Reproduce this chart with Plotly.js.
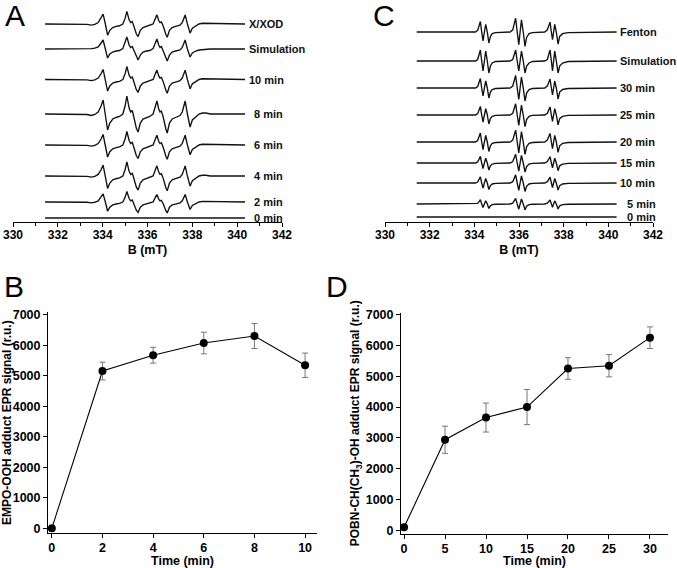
<!DOCTYPE html>
<html><head><meta charset="utf-8">
<script src="https://cdn.plot.ly/plotly-3.0.1.min.js"></script>
<style>html,body{margin:0;padding:0;background:#fff}#chart{width:677px;height:568px}</style>
</head><body><div id="chart"></div>
<script>
// ---------------- DATA ----------------
// Panel A: EMPO-OOH spectra (field in mT, signal in relative units)
const B_EMPO = [331.43, 333.0, 333.3, 333.5, 333.65, 333.8, 333.93, 334.02, 334.12, 334.22, 334.32, 334.45, 334.6, 334.75, 334.9,
  335.0, 335.08, 335.18, 335.25, 335.32, 335.38, 335.5, 335.58, 335.68, 335.8, 335.95, 336.1, 336.25,
  336.35, 336.42, 336.5, 336.56, 336.62, 336.7, 336.82, 336.88, 336.98, 337.1, 337.25, 337.45,
  337.55, 337.62, 337.68, 337.78, 337.9, 338.0, 338.15, 338.3, 338.45, 338.6, 338.8, 340.35];
const EMPO_EXP = [0, 0, -0.5, -1.5, -0.5, 2, 8, 14, 0, -16, -9, -5, -3.5, -2.5, 0,
  8, 18, 6, 2, 3.5, -2, -14, -18, -9, -5, -3.5, -2.5, 0,
  8, 13, 5, 2, 3, -3, -15, -19, -9, -5, -3.5, -1.5,
  2, 8, 13, 0, -13, -6, -2.5, 0, 1, 1, 0, 0];
const EMPO_SIM = [0, 0, 0, 0.3, 0.8, 2, 6, 9, 0, -9, -5, -3, -2, -1.5, 0.5,
  6, 12, 4, 1.5, 2.5, -1, -8, -11, -6, -3, -2, -1.5, 0.5,
  6, 10, 4, 1.5, 2.5, -2, -9, -12, -6, -3, -2, -1,
  1.5, 5, 9, 0, -8, -4, -2, -1, -0.5, -0.3, 0, 0];
const A_LABELS = ['X/XOD', 'Simulation', '10 min', '8 min', '6 min', '4 min', '2 min', '0 min'];
const A_SOURCE = ['exp', 'sim', 'exp', 'exp', 'exp', 'exp', 'exp', 'exp'];
const A_AMPL = [0.7, 1, 0.72, 1, 0.75, 0.78, 0.58, 0];

// Panel C: POBN-CH(CH3)-OH spectra
const B_POBN = [331.42, 334.05, 334.15, 334.22, 334.27, 334.33, 334.39, 334.45, 334.51, 334.58, 334.65, 334.72, 334.8, 334.95,
  335.6, 335.72, 335.8, 335.85, 335.92, 335.99, 336.05, 336.11, 336.19, 336.27, 336.34, 336.45, 336.6,
  337.15, 337.27, 337.34, 337.39, 337.45, 337.5, 337.55, 337.6, 337.67, 337.75, 337.82, 337.95, 338.2, 340.37];
const POBN_EXP = [0, 0, 1.5, 6, 9.5, 0, -8, 0, 7, 0, -10, -4, -1.5, -0.5,
  0, 2, 8, 12.5, 0, -11.5, 0, 11, 0, -13, -5, -1.5, -0.5,
  0, 2, 6, 9, 0, -7, 0, 7, 0, -11, -4, -1.5, -0.5, 0];
const POBN_SIM = [0, 0, 1.5, 7, 11, 0, -10, 0, 10, 0, -12, -5, -2, -0.5,
  0, 1.5, 7, 11, 0, -10, 0, 10, 0, -12, -5, -2, -0.5,
  0, 1.5, 7, 11, 0, -10, 0, 10, 0, -12, -5, -2, -0.5, 0];
const C_LABELS = ['Fenton', 'Simulation', '30 min', '25 min', '20 min', '15 min', '10 min', '5 min', '0 min'];
const C_SOURCE = ['exp', 'sim', 'exp', 'exp', 'exp', 'exp', 'exp', 'exp', 'exp'];
const C_AMPL = [1.1, 1, 1, 0.9, 0.95, 0.7, 0.65, 0.45, 0];

// Panel B: EMPO-OOH adduct signal vs time
const TIME_B = [0, 2, 4, 6, 8, 10];
const SIGNAL_B = [0, 5160, 5680, 6080, 6310, 5350];
const ERR_B = [0, 290, 260, 355, 410, 400];

// Panel D: POBN-CH(CH3)-OH adduct signal vs time
const TIME_D = [0, 5, 10, 15, 20, 25, 30];
const SIGNAL_D = [100, 2940, 3660, 4000, 5250, 5340, 6250];
const ERR_D = [0, 440, 470, 570, 350, 360, 350];

// ---------------- LAYOUT CONFIG ----------------
const W = 677, H = 568;
const FONT = 'Liberation Sans, Arial, Helvetica, sans-serif';
const px = x => x / W;
const py = y => 1 - y / H;
// stacked spectra: baseline pixel rows (layout positions)
const A_ROWS = [24, 49, 79.5, 114, 145, 176, 202, 218];
const A_LABEL_X = [340.44, 340.44, 340.44, 340.66, 340.66, 340.66, 340.66, 340.66];
const C_ROWS = [32, 61, 88, 115, 142, 163, 183, 204, 217];
const C_LABEL_X = [340.43, 340.43, 340.43, 340.43, 340.43, 340.43, 340.43, 340.75, 340.75];
const SPEC_AXIS_Y = 222;   // pixel row of spectra x-axis

const traces = [];
const annotations = [];
const lineStyle = {color: '#111', width: 1.35};

A_LABELS.forEach((lab, i) => {
  const src = A_SOURCE[i] === 'sim' ? EMPO_SIM : EMPO_EXP;
  const off = SPEC_AXIS_Y - A_ROWS[i];
  traces.push({x: B_EMPO, y: src.map(v => off + A_AMPL[i] * v), xaxis: 'x', yaxis: 'y',
    type: 'scatter', mode: 'lines', line: lineStyle, hoverinfo: 'skip', showlegend: false, name: lab});
  annotations.push({x: A_LABEL_X[i], y: off, xref: 'x', yref: 'y', text: lab, showarrow: false,
    xanchor: 'left', yanchor: 'middle', font: {family: FONT, size: 11, weight: 'bold', color: '#111'}});
});
C_LABELS.forEach((lab, i) => {
  const src = C_SOURCE[i] === 'sim' ? POBN_SIM : POBN_EXP;
  const off = SPEC_AXIS_Y - C_ROWS[i];
  traces.push({x: B_POBN, y: src.map(v => off + C_AMPL[i] * v), xaxis: 'x2', yaxis: 'y2',
    type: 'scatter', mode: 'lines', line: lineStyle, hoverinfo: 'skip', showlegend: false, name: lab});
  annotations.push({x: C_LABEL_X[i], y: off, xref: 'x2', yref: 'y2', text: lab, showarrow: false,
    xanchor: 'left', yanchor: 'middle', font: {family: FONT, size: 11, weight: 'bold', color: '#111'}});
});

const errStyle = {type: 'data', visible: true, color: '#777', thickness: 1, width: 3};
traces.push({x: TIME_B, y: SIGNAL_B, error_y: Object.assign({array: ERR_B}, errStyle), xaxis: 'x3', yaxis: 'y3',
  type: 'scatter', mode: 'lines+markers', line: {color: '#000', width: 1.1}, marker: {color: '#000', size: 8}, showlegend: false});
traces.push({x: TIME_D, y: SIGNAL_D, error_y: Object.assign({array: ERR_D}, errStyle), xaxis: 'x4', yaxis: 'y4',
  type: 'scatter', mode: 'lines+markers', line: {color: '#000', width: 1.1}, marker: {color: '#000', size: 8}, showlegend: false});

// panel letters
[['A', 15, 16], ['C', 384, 16], ['B', 14, 286], ['D', 337, 286]].forEach(([t, x, y]) => {
  annotations.push({x: px(x), y: py(y), xref: 'paper', yref: 'paper', text: t, showarrow: false,
    xanchor: 'center', yanchor: 'middle', font: {family: FONT, size: 30, color: '#000'}});
});

const tickFont = s => ({family: FONT, size: s, weight: 'bold', color: '#000'});
const titleFont = {family: FONT, size: 12.5, weight: 'bold', color: '#000'};
const specX = (d0, d1) => ({
  domain: [px(d0), px(d1)], range: [330, 342], tickvals: [330, 332, 334, 336, 338, 340, 342],
  ticks: 'outside', ticklen: 4, tickcolor: '#000', showline: true, linecolor: '#000', linewidth: 1,
  showgrid: false, zeroline: false, tickfont: tickFont(12), ticklabelstandoff: -2,
  minor: {ticks: 'outside', ticklen: 3, dtick: 1, tick0: 330, tickcolor: '#000', showgrid: false},
  title: {text: 'B (mT)', font: titleFont, standoff: 3}, fixedrange: true
});
const specY = () => ({
  domain: [py(SPEC_AXIS_Y), py(1)], range: [0, SPEC_AXIS_Y - 1], visible: false, fixedrange: true
});
const timeX = (d0, d1, r, vals, so) => ({
  domain: [px(d0), px(d1)], range: r, tickvals: vals, ticks: 'outside', ticklen: 4, tickcolor: '#000',
  showline: true, linecolor: '#000', linewidth: 1, showgrid: false, zeroline: false, tickfont: tickFont(12.5),
  ticklabelstandoff: -1,
  title: {text: 'Time (min)', font: titleFont, standoff: so}, fixedrange: true
});
const sigY = (top, bot, r, title) => ({
  domain: [py(bot), py(top)], range: r, tickvals: [0, 1000, 2000, 3000, 4000, 5000, 6000, 7000],
  ticks: 'outside', ticklen: 4, tickcolor: '#000', showline: true, linecolor: '#000', linewidth: 1,
  showgrid: false, zeroline: false, tickfont: tickFont(12.5),
  title: {text: title, font: {family: FONT, size: 12, weight: 'bold', color: '#000'}, standoff: 3}, fixedrange: true
});

const layout = {
  width: W, height: H, margin: {l: 0, r: 0, t: 0, b: 0}, paper_bgcolor: '#fff', plot_bgcolor: 'rgba(0,0,0,0)',
  showlegend: false, font: {family: FONT, color: '#000'},
  xaxis: Object.assign(specX(13, 282), {anchor: 'y'}),
  yaxis: Object.assign(specY(), {anchor: 'x'}),
  xaxis2: Object.assign(specX(385, 653), {anchor: 'y2'}),
  yaxis2: Object.assign(specY(), {anchor: 'x2'}),
  xaxis3: Object.assign(timeX(48, 317, [-0.15, 10.47], [0, 2, 4, 6, 8, 10], 5), {anchor: 'y3'}),
  yaxis3: Object.assign(sigY(312, 533.3, [-164, 7098], 'EMPO-OOH adduct EPR signal (r.u.)'), {anchor: 'x3'}),
  xaxis4: Object.assign(timeX(401, 668, [-0.37, 32.2], [0, 5, 10, 15, 20, 25, 30], 6), {anchor: 'y4'}),
  yaxis4: Object.assign(sigY(313, 533.5, [-100, 7050], 'POBN-CH(CH<sub>3</sub>)-OH adduct EPR signal (r.u.)'), {anchor: 'x4'}),
  annotations: annotations
};

Plotly.newPlot('chart', traces, layout, {staticPlot: true, displayModeBar: false});
</script>
</body></html>
